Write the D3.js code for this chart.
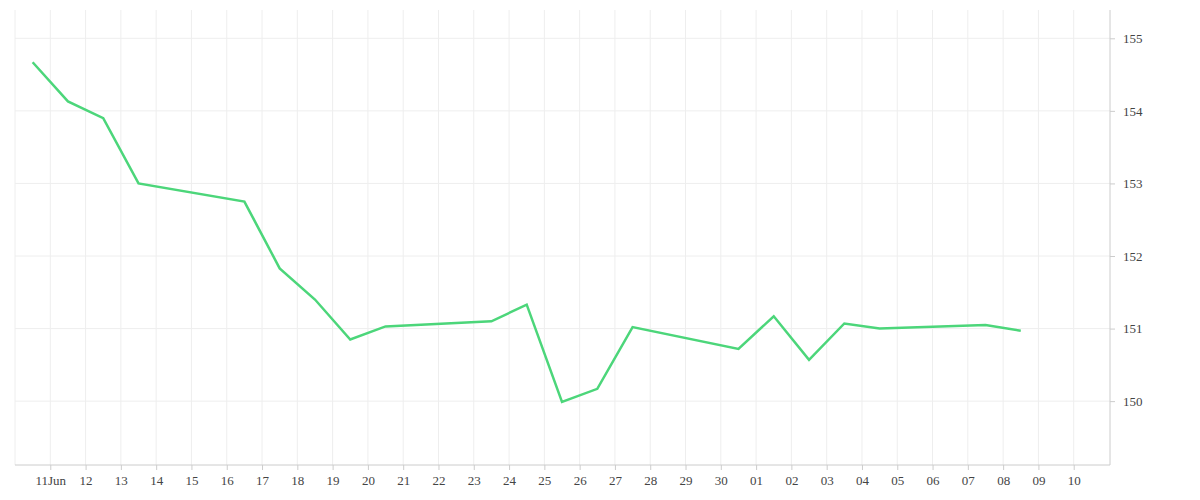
<!DOCTYPE html>
<html><head><meta charset="utf-8">
<script src="https://cdn.jsdelivr.net/npm/d3@7"></script>
<style>body{margin:0;background:#fff}text{font-family:"Liberation Serif",serif;font-size:13px;fill:#444}</style>
</head><body><svg width="1200" height="500"></svg>
<script>
const dates=["2024-06-10T12","2024-06-11T12","2024-06-12T12","2024-06-13T12","2024-06-16T12","2024-06-17T12","2024-06-18T12","2024-06-19T12","2024-06-20T12","2024-06-23T12","2024-06-24T12","2024-06-25T12","2024-06-26T12","2024-06-27T12","2024-06-30T12","2024-07-01T12","2024-07-02T12","2024-07-03T12","2024-07-04T12","2024-07-07T12","2024-07-08T12"];
const values=[154.67,154.13,153.9,153.0,152.75,151.83,151.4,150.85,151.03,151.1,151.33,149.99,150.17,151.02,150.72,151.17,150.57,151.07,151.0,151.05,150.97];
const yTicks=[150,151,152,153,154,155];
const svg=d3.select("svg");
const x=d3.scaleUtc().domain([new Date("2024-06-10T00:00Z"),new Date("2024-07-11T00:00Z")]).range([15,1109]);
const y=d3.scaleLinear().domain([149.12,155.39]).range([465,10]);
const days=d3.utcDay.range(new Date("2024-06-11T00:00Z"),new Date("2024-07-10T00:01Z"));
const g=svg.append("g");
g.selectAll(".vg").data(days).join("line").attr("x1",d=>x(d)).attr("x2",d=>x(d)).attr("y1",10).attr("y2",465).attr("stroke","#eee");
g.append("line").attr("x1",15).attr("x2",15).attr("y1",10).attr("y2",465).attr("stroke","#eee");
g.selectAll(".hg").data(yTicks).join("line").attr("x1",15).attr("x2",1110).attr("y1",d=>y(d)).attr("y2",d=>y(d)).attr("stroke","#eee");
const fmt=d=>d.getUTCDate()===11&&d.getUTCMonth()===5?"11Jun":d3.utcFormat("%d")(d);
const xa=svg.append("g").attr("transform","translate(0,465)").call(d3.axisBottom(x).tickValues(days).tickFormat(fmt).tickSize(5).tickPadding(6));
xa.select(".domain").attr("d","M15,0H1110").attr("stroke","#ccc");
xa.selectAll(".tick line").attr("stroke","#ccc");
const ya=svg.append("g").attr("transform","translate(1110,0)").call(d3.axisRight(y).tickValues(yTicks).tickFormat(d3.format("d")).tickSize(5).tickPadding(8));
ya.select(".domain").attr("d","M0,10V465").attr("stroke","#ccc");
ya.selectAll(".tick line").attr("stroke","#ccc");
svg.selectAll(".tick text").style("font-family","Liberation Serif").style("font-size","13px").attr("fill","#444");
const pts=dates.map((d,i)=>[new Date(d+":00Z"),values[i]]);
svg.append("path").datum(pts).attr("fill","none").attr("stroke","#4cd67a").attr("stroke-width",2.5)
 .attr("d",d3.line().x(d=>x(d[0])).y(d=>y(d[1])));
</script></body></html>
